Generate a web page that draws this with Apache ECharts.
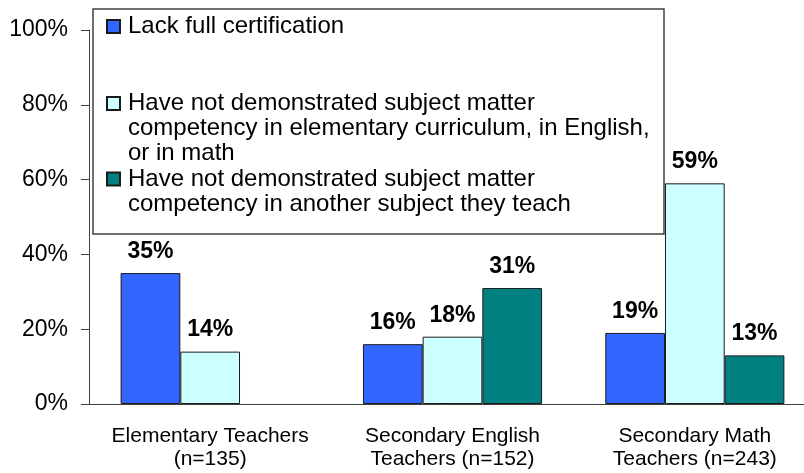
<!DOCTYPE html>
<html>
<head>
<meta charset="utf-8">
<script src="https://cdn.jsdelivr.net/npm/echarts@6/dist/echarts.min.js"></script>
<style>
html, body { margin: 0; padding: 0; background: #fff; }
#chart_a { width: 804px; height: 473px; }
</style>
</head>
<body>
<div id="chart_a"></div>
<script>
// categories (x axis)
var categories = ['Elementary Teachers\n(n=135)', 'Secondary English\nTeachers (n=152)', 'Secondary Math\nTeachers (n=243)'];
// series names
var seriesNames = [
	'Lack full certification',
	'Have not demonstrated subject matter competency in elementary curriculum, in English, or in math',
	'Have not demonstrated subject matter competency in another subject they teach'
];
// legend text as shown (line breaks; blank lines on top keep the icon beside the first line)
var legendLabels = [
	'Lack full certification',
	' \n \nHave not demonstrated subject matter\ncompetency in elementary curriculum, in English,\nor in math',
	' \nHave not demonstrated subject matter\ncompetency in another subject they teach'
];
// values in percent
var lackCert = [35, 16, 19];
var notCoreSubject = [14, 18, 59];
var notOtherSubject = [null, 31, 13];
// y axis ticks
var yMin = 0, yMax = 100, yStep = 20;

var colors = ['#3366FF', '#CCFFFF', '#008080'];
var fontName = '"Liberation Sans", Arial, sans-serif';

(function(){
	var mychart1 = echarts.init(document.getElementById('chart_a'));

	function makeSeries(idx, values) {
		return {
			name : seriesNames[idx],
			type : 'bar',
			barWidth : 59.7,
			barGap : '0%',
			itemStyle : {
				color : colors[idx],
				borderColor : '#1a1a1a',
				borderWidth : 1
			},
			label : {
				show : true,
				position : 'top',
				distance : 10,
				formatter : '{c}%',
				color : '#000',
				fontSize : 23,
				fontWeight : 'bold',
				fontFamily : fontName
			},
			data : values
		};
	}

	// one legend per entry so each can sit where the original puts it
	var legendTops = [14, 41, 141.5];
	var legends = [];
	for (var i = 0; i < seriesNames.length; i++) {
		legends.push({
			left : 106,
			top : legendTops[i],
			padding : 0,
			orient : 'vertical',
			selectedMode : false,
			itemWidth : 13,
			itemHeight : 13,
			icon : 'rect',
			data : [seriesNames[i]],
			formatter : (function(k){ return function(){ return legendLabels[k]; }; })(i),
			textStyle : {
				color : '#000',
				fontSize : 24,
				fontFamily : fontName,
				lineHeight : 25,
				padding : [0, 0, 0, 3]
			}
		});
	}

	var option1 = {
		animation : false,
		color : colors,
		grid : {
			left : 89,
			top : 30,
			width : 727,
			height : 374,
			outerBoundsMode : 'none'
		},
		legend : legends,
		graphic : [{
			type : 'rect',
			z : 3,
			shape : { x : 93, y : 9, width : 571, height : 225 },
			style : { fill : '#fff', stroke : '#404040', lineWidth : 1.5 }
		}],
		xAxis : {
			type : 'category',
			data : categories,
			axisTick : { show : false },
			axisLine : { lineStyle : { color : '#404040', width : 1 } },
			axisLabel : {
				interval : 0,
				color : '#000',
				fontSize : 21,
				lineHeight : 23,
				margin : 21,
				fontFamily : fontName
			}
		},
		yAxis : {
			type : 'value',
			min : yMin,
			max : yMax,
			interval : yStep,
			splitLine : { show : false },
			axisLine : { show : true, lineStyle : { color : '#404040', width : 1 } },
			axisTick : { show : true, length : 8, lineStyle : { color : '#404040' } },
			axisLabel : {
				formatter : '{value}%',
				color : '#000',
				fontSize : 23,
				margin : 21,
				fontFamily : fontName
			}
		},
		series : [
			makeSeries(0, lackCert),
			makeSeries(1, notCoreSubject),
			makeSeries(2, notOtherSubject)
		]
	};
	mychart1.setOption(option1, true);
})();
</script>
</body>
</html>
